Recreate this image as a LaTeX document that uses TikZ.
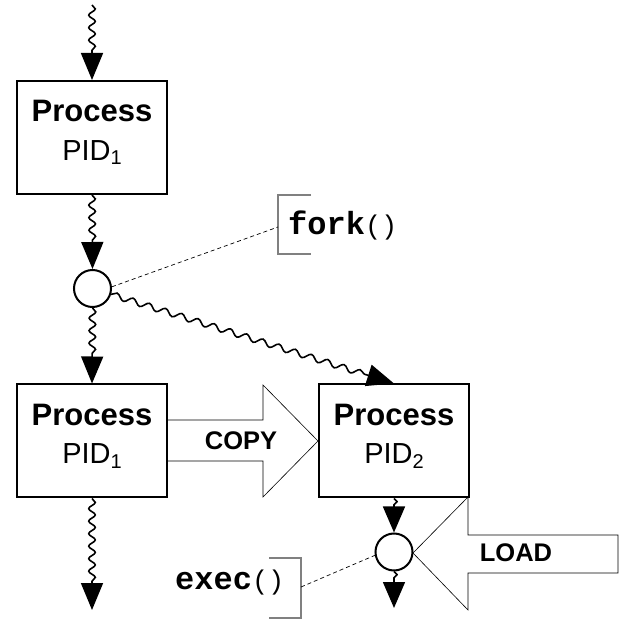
\documentclass[tikz,border=0pt]{standalone}
\usepackage{fontspec}
\setmainfont{Liberation Sans}
\setmonofont{Liberation Mono}
\newfontfamily\procfont{Liberation Sans}
\usetikzlibrary{arrows.meta,decorations.pathmorphing}
\tikzset{
  procbox/.style={draw,line width=2pt,minimum width=150pt,minimum height=113pt,inner sep=0pt,fill=white},
  ptitle/.style={anchor=base,inner sep=0pt,font=\procfont\bfseries\fontsize{31}{36}\selectfont},
  pidtext/.style={anchor=base,inner sep=0pt,font=\procfont\fontsize{29}{34}\selectfont},
  junction/.style={circle,draw,line width=2pt,minimum size=37pt,inner sep=0pt,fill=white},
  wavy/.style={line width=1.6pt,decorate,
    decoration={snake,amplitude=3.3pt,segment length=12.5pt,post length=27pt},
    -{Triangle[length=27pt,width=22pt]}},
  wavydiag/.style={wavy,decoration={snake,amplitude=3pt,segment length=17pt,post length=27pt}},
  wavyshort/.style={line width=1.6pt,decorate,
    decoration={snake,amplitude=3pt,segment length=10pt,post length=26pt},
    -{Triangle[length=26pt,width=22pt]}},
  bigarrow/.style={draw=black,line width=0.6pt,fill=white},
  bracketline/.style={draw=black!50,line width=1.5pt},
  leader/.style={line width=0.7pt,dash pattern=on 4pt off 3pt},
  arrowtext/.style={inner sep=0pt,font=\procfont\bfseries\fontsize{25.5}{30}\selectfont},
  calltext/.style={inner sep=0pt,anchor=base west,font=\ttfamily\fontsize{32}{36}\selectfont}
}
\newcommand{\subtxt}[1]{\raisebox{-4.5pt}{\fontsize{20}{20}\selectfont #1}}
\begin{document}
\begin{tikzpicture}[x=1pt,y=-1pt]
\useasboundingbox (0,0) rectangle (630,628);
\fill[white] (0,0) rectangle (630,628);

% big hollow arrows (behind boxes)
\draw[bigarrow] (160,420) -- (263,420) -- (263,385) -- (318,441) -- (263,497) -- (263,461) -- (160,461);
\draw[bigarrow] (618,535) -- (468,535) -- (468,497) -- (413,553) -- (468,610) -- (468,573) -- (618,573) -- cycle;

% process boxes
\node[procbox] (p1) at (92,137.5) {};
\node[ptitle] (p1a) at (92,122) {Process};
\node[pidtext] (p1b) at (92,160.5) {PID\subtxt{1}};

\node[procbox] (p3) at (92,441) {};
\node[ptitle] (p3a) at (92,425.5) {Process};
\node[pidtext] (p3b) at (92,464) {PID\subtxt{1}};

\node[procbox] (p2) at (394,441) {};
\node[ptitle] (p2a) at (394,425.5) {Process};
\node[pidtext] (p2b) at (394,464) {PID\subtxt{2}};

% junctions
\node[junction] (c1) at (92.5,288.5) {};
\node[junction] (c2) at (394,552) {};

% free ends
\coordinate (top) at (92,5);
\coordinate (bot1) at (92,610);
\coordinate (bot2) at (394,608);

% wavy flow arrows
\draw[wavy] (top) -- (p1.north);
\draw[wavy] (p1.south) -- (c1.north);
\draw[wavy] (c1.south) -- (p3.north);
\draw[wavy] (p3.south) -- (bot1);
\draw[wavydiag] (c1) -- (p2.north);
\draw[wavyshort] (p2.south) -- (c2.north);
\draw[wavyshort] (c2.south) -- (bot2);

% arrow labels
\node[arrowtext] (copy) at (241,441) {COPY};
\node[arrowtext] (load) at (516,553) {LOAD};

% fork() callout
\draw[bracketline] (311,195) -- (278,195) -- (278,254) -- (311,254);
\coordinate (forkpt) at (278,227);
\draw[leader] (c1.5) -- (forkpt);
\node[calltext] (forktxt) at (288,235) {\textbf{fork}{\fontsize{27}{30}\selectfont()}};

% exec() callout
\draw[bracketline] (269,558) -- (301,558) -- (301,618) -- (269,618);
\coordinate (execpt) at (301,587);
\draw[leader] (execpt) -- (c2.190);
\node[calltext] (exectxt) at (175,589) {\textbf{exec}{\fontsize{27}{30}\selectfont()}};
\end{tikzpicture}
\end{document}
